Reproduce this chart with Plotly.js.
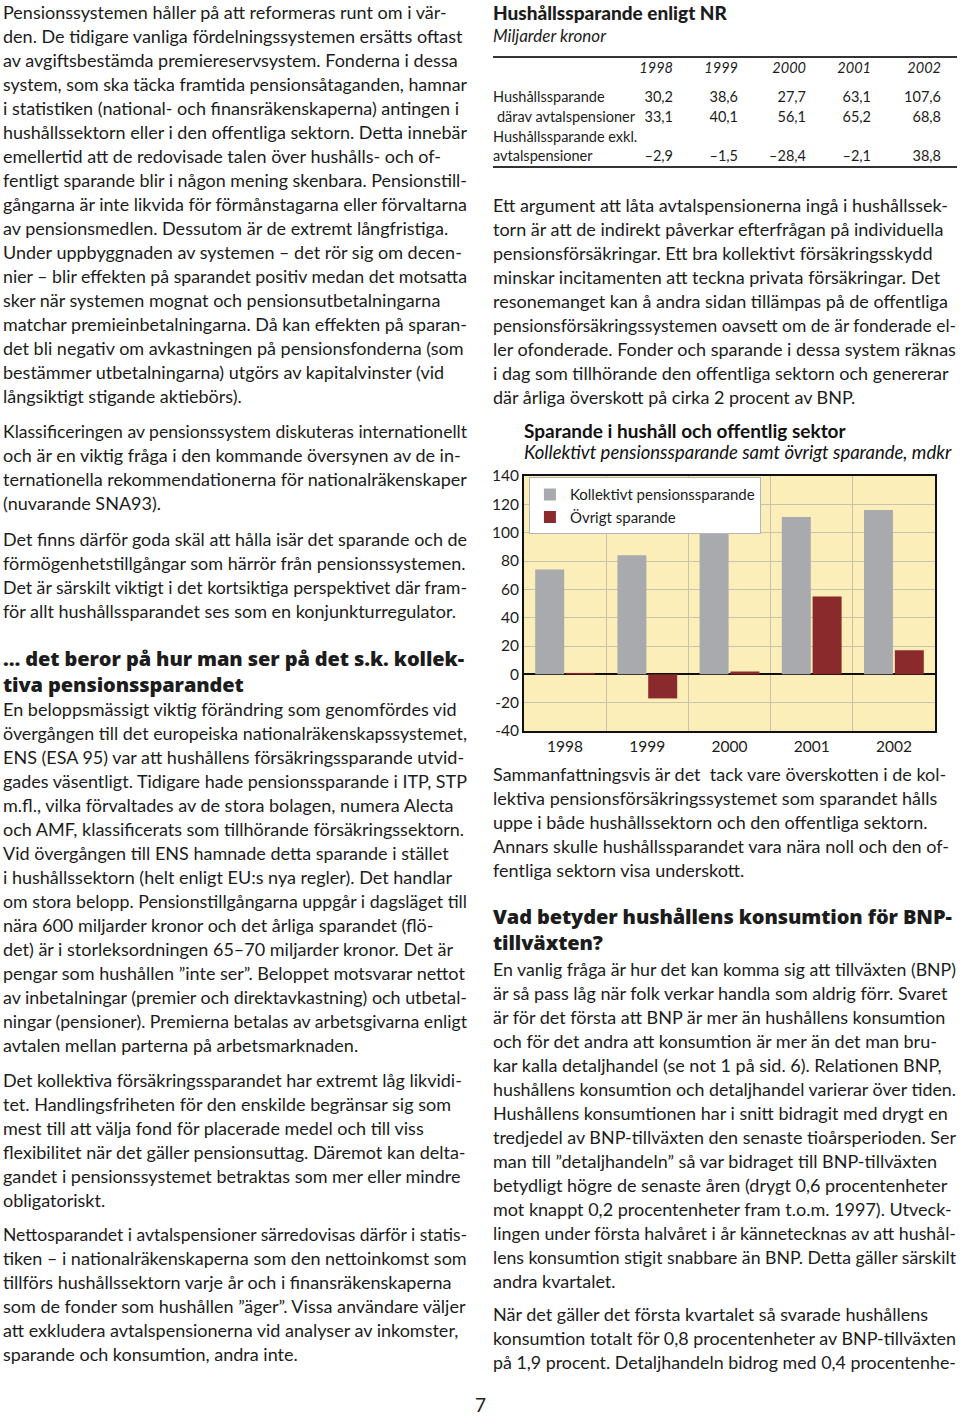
<!DOCTYPE html>
<html lang="sv">
<head>
<meta charset="utf-8">
<script src="https://cdn.plot.ly/plotly-3.0.1.min.js"></script>
<style>
  html, body { margin: 0; padding: 0; background: #fff; }
  body { width: 960px; height: 1416px; position: relative; overflow: hidden;
         font-family: Lato, "Noto Sans", sans-serif; color: #1c1c1c; }
  .p { position: absolute; font-size: 18px; line-height: 24px; white-space: nowrap; }
  .h { position: absolute; font-family: "Open Sans", Lato, sans-serif; font-size: 20px; line-height: 25.5px; font-weight: 800; white-space: nowrap; letter-spacing: -0.1px; }
  .ln { display: block; transform-origin: 0 50%; width: max-content; }
  .tt { position: absolute; font-size: 19px; font-weight: 900; white-space: nowrap; }
  .ts { position: absolute; font-size: 17px; font-style: italic; white-space: nowrap; }
  .rule { position: absolute; left: 493px; width: 464px; height: 1.5px; background: #333; }
  .cell { position: absolute; font-size: 14.5px; line-height: 18px; white-space: nowrap; }
  #chart { position: absolute; left: 488px; top: 415px; width: 472px; height: 345px; }
</style>
</head>
<body>

<!-- LEFT COLUMN -->
<div class="p L" style="left:3px; top:0px;">Pensionssystemen håller på att reformeras runt om i vär-<br>den. De tidigare vanliga fördelningssystemen ersätts oftast<br>av avgiftsbestämda premiereservsystem. Fonderna i dessa<br>system, som ska täcka framtida pensionsåtaganden, hamnar<br>i statistiken (national- och finansräkenskaperna) antingen i<br>hushållssektorn eller i den offentliga sektorn. Detta innebär<br>emellertid att de redovisade talen över hushålls- och of-<br>fentligt sparande blir i någon mening skenbara. Pensionstill-<br>gångarna är inte likvida för förmånstagarna eller förvaltarna<br>av pensionsmedlen. Dessutom är de extremt långfristiga.<br>Under uppbyggnaden av systemen – det rör sig om decen-<br>nier – blir effekten på sparandet positiv medan det motsatta<br>sker när systemen mognat och pensionsutbetalningarna<br>matchar premieinbetalningarna. Då kan effekten på sparan-<br>det bli negativ om avkastningen på pensionsfonderna (som<br>bestämmer utbetalningarna) utgörs av kapitalvinster (vid<br>långsiktigt stigande aktiebörs).</div>

<div class="p L" style="left:3px; top:419px;">Klassificeringen av pensionssystem diskuteras internationellt<br>och är en viktig fråga i den kommande översynen av de in-<br>ternationella rekommendationerna för nationalräkenskaper<br>(nuvarande SNA93).</div>

<div class="p L" style="left:3px; top:527px;">Det finns därför goda skäl att hålla isär det sparande och de<br>förmögenhetstillgångar som härrör från pensionssystemen.<br>Det är särskilt viktigt i det kortsiktiga perspektivet där fram-<br>för allt hushållssparandet ses som en konjunkturregulator.</div>

<div class="h L" style="left:3px; top:646px;">… det beror på hur man ser på det s.k. kollek-<br>tiva pensionssparandet</div>

<div class="p L" style="left:3px; top:697px;">En beloppsmässigt viktig förändring som genomfördes vid<br>övergången till det europeiska nationalräkenskapssystemet,<br>ENS (ESA 95) var att hushållens försäkringssparande utvid-<br>gades väsentligt. Tidigare hade pensionssparande i ITP, STP<br>m.fl., vilka förvaltades av de stora bolagen, numera Alecta<br>och AMF, klassificerats som tillhörande försäkringssektorn.<br>Vid övergången till ENS hamnade detta sparande i stället<br>i hushållssektorn (helt enligt EU:s nya regler). Det handlar<br>om stora belopp. Pensionstillgångarna uppgår i dagsläget till<br>nära 600 miljarder kronor och det årliga sparandet (flö-<br>det) är i storleksordningen 65–70 miljarder kronor. Det är<br>pengar som hushållen ”inte ser”. Beloppet motsvarar nettot<br>av inbetalningar (premier och direktavkastning) och utbetal-<br>ningar (pensioner). Premierna betalas av arbetsgivarna enligt<br>avtalen mellan parterna på arbetsmarknaden.</div>

<div class="p L" style="left:3px; top:1068px;">Det kollektiva försäkringssparandet har extremt låg likvidi-<br>tet. Handlingsfriheten för den enskilde begränsar sig som<br>mest till att välja fond för placerade medel och till viss<br>flexibilitet när det gäller pensionsuttag. Däremot kan delta-<br>gandet i pensionssystemet betraktas som mer eller mindre<br>obligatoriskt.</div>

<div class="p L" style="left:3px; top:1222px;">Nettosparandet i avtalspensioner särredovisas därför i statis-<br>tiken – i nationalräkenskaperna som den nettoinkomst som<br>tillförs hushållssektorn varje år och i finansräkenskaperna<br>som de fonder som hushållen ”äger”. Vissa användare väljer<br>att exkludera avtalspensionerna vid analyser av inkomster,<br>sparande och konsumtion, andra inte.</div>

<!-- RIGHT COLUMN: table -->
<div class="tt" style="left:493px; top:1px;">Hushållssparande enligt NR</div>
<div class="ts" style="left:493px; top:25px;">Miljarder kronor</div>
<div class="rule" style="top:56px;"></div>
<div class="rule" style="top:166px;"></div>
<div id="table"></div>

<div class="p R" style="left:493px; top:193px;">Ett argument att låta avtalspensionerna ingå i hushållssek-<br>torn är att de indirekt påverkar efterfrågan på individuella<br>pensionsförsäkringar. Ett bra kollektivt försäkringsskydd<br>minskar incitamenten att teckna privata försäkringar. Det<br>resonemanget kan å andra sidan tillämpas på de offentliga<br>pensionsförsäkringssystemen oavsett om de är fonderade el-<br>ler ofonderade. Fonder och sparande i dessa system räknas<br>i dag som tillhörande den offentliga sektorn och genererar<br>där årliga överskott på cirka 2 procent av BNP.</div>

<div id="chart"></div>

<div class="p R" style="left:493px; top:762px;">Sammanfattningsvis är det &nbsp;tack vare överskotten i de kol-<br>lektiva pensionsförsäkringssystemet som sparandet hålls<br>uppe i både hushållssektorn och den offentliga sektorn.<br>Annars skulle hushållssparandet vara nära noll och den of-<br>fentliga sektorn visa underskott.</div>

<div class="h R" style="left:493px; top:904px;">Vad betyder hushållens konsumtion för BNP-<br>tillväxten?</div>

<div class="p R" style="left:493px; top:957px;">En vanlig fråga är hur det kan komma sig att tillväxten (BNP)<br>är så pass låg när folk verkar handla som aldrig förr. Svaret<br>är för det första att BNP är mer än hushållens konsumtion<br>och för det andra att konsumtion är mer än det man bru-<br>kar kalla detaljhandel (se not 1 på sid. 6). Relationen BNP,<br>hushållens konsumtion och detaljhandel varierar över tiden.<br>Hushållens konsumtionen har i snitt bidragit med drygt en<br>tredjedel av BNP-tillväxten den senaste tioårsperioden. Ser<br>man till ”detaljhandeln” så var bidraget till BNP-tillväxten<br>betydligt högre de senaste åren (drygt 0,6 procentenheter<br>mot knappt 0,2 procentenheter fram t.o.m. 1997). Utveck-<br>lingen under första halvåret i år kännetecknas av att hushål-<br>lens konsumtion stigit snabbare än BNP. Detta gäller särskilt<br>andra kvartalet.</div>

<div class="p R" style="left:493px; top:1302px;">När det gäller det första kvartalet så svarade hushållens<br>konsumtion totalt för 0,8 procentenheter av BNP-tillväxten<br>på 1,9 procent. Detaljhandeln bidrog med 0,4 procentenhe-</div>

<div class="p" style="left:475px; top:1393px; font-size:19px;">7</div>

<script>
// ---- Table data ----
const tableYears = ['1998', '1999', '2000', '2001', '2002'];
const tableRowLabels = ['Hushållssparande', ' därav avtalspensioner', 'Hushållssparande exkl.', 'avtalspensioner'];
const hushallssparande = ['30,2', '38,6', '27,7', '63,1', '107,6'];
const daravAvtalspensioner = ['33,1', '40,1', '56,1', '65,2', '68,8'];
const exklAvtalspensioner = ['–2,9', '–1,5', '–28,4', '–2,1', '38,8'];

// ---- Chart data ----
const chartYears = ['1998', '1999', '2000', '2001', '2002'];
const kollektivtPensionssparande = [74, 84, 102, 111, 116];
const ovrigtSparande = [1, -17, 2, 55, 17];
const yTickVals = [-40, -20, 0, 20, 40, 60, 80, 100, 120, 140];
const yTickText = ['-40', '-20', '0', '20', '40', '60', '80', '100', '120', '140'];

// Wrap paragraph lines and keep each line inside its column
(function () {
  document.querySelectorAll('.p.L, .p.R, .h').forEach(el => {
    const maxW = el.classList.contains('L') ? 464 : 463;
    const parts = el.innerHTML.split(/<br\s*\/?>/i);
    el.innerHTML = parts.map(t => '<span class="ln">' + t + '</span>').join('');
    el.querySelectorAll('.ln').forEach(s => {
      const w = s.getBoundingClientRect().width;
      if (w > maxW) s.style.transform = 'scaleX(' + (maxW / w).toFixed(4) + ')';
    });
  });
})();

// Build table
(function () {
  const host = document.getElementById('table');
  const colRight = [673, 738, 806, 871, 941];
  const rowTop = [59, 88, 108, 128, 147];
  function cell(text, left, right, top, italic) {
    const d = document.createElement('div');
    d.className = 'cell';
    d.textContent = text;
    if (right !== null) { d.style.right = (960 - right) + 'px'; } else { d.style.left = left + 'px'; }
    d.style.top = top + 'px';
    if (italic) d.style.fontStyle = 'italic';
    host.appendChild(d);
  }
  tableYears.forEach((y, i) => cell(y, null, colRight[i], rowTop[0], true));
  cell(tableRowLabels[0], 493, null, rowTop[1]);
  cell(tableRowLabels[1], 497, null, rowTop[2]);
  cell(tableRowLabels[2], 493, null, rowTop[3]);
  cell(tableRowLabels[3], 493, null, rowTop[4]);
  hushallssparande.forEach((v, i) => cell(v, null, colRight[i], rowTop[1]));
  daravAvtalspensioner.forEach((v, i) => cell(v, null, colRight[i], rowTop[2]));
  exklAvtalspensioner.forEach((v, i) => cell(v, null, colRight[i], rowTop[4]));
})();

// Build chart
const fontFam = 'Lato, "Noto Sans", sans-serif';
const traces = [
  { type: 'bar', name: 'Kollektivt pensionssparande', x: chartYears, y: kollektivtPensionssparande,
    marker: { color: '#A8AAAD' }, hoverinfo: 'skip' },
  { type: 'bar', name: 'Övrigt sparande', x: chartYears, y: ovrigtSparande,
    marker: { color: '#8A2A2C' }, hoverinfo: 'skip' }
];
const layout = {
  width: 472, height: 345,
  margin: { l: 36, r: 25, t: 61, b: 29, pad: 0 },
  paper_bgcolor: '#ffffff',
  plot_bgcolor: '#FCEEB9',
  font: { family: fontFam, size: 15, color: '#1c1c1c' },
  barmode: 'group', bargap: 0.25, bargroupgap: 0.06,
  showlegend: true,
  legend: { x: 0.012, y: 0.995, xanchor: 'left', yanchor: 'top', bgcolor: '#ffffff',
            bordercolor: '#b5b5b5', borderwidth: 1, font: { size: 15, family: fontFam },
            itemwidth: 30, tracegroupgap: 0, indentation: -16 },
  xaxis: { type: 'category', tickson: 'boundaries', showgrid: true, gridcolor: '#C9C3AE', gridwidth: 1,
           ticks: '', showline: true, linecolor: '#111', linewidth: 2, mirror: true,
           tickfont: { size: 15.5 }, fixedrange: true },
  yaxis: { range: [-40, 140], tickmode: 'array', tickvals: yTickVals, ticktext: yTickText,
           showgrid: true, gridcolor: '#C9C3AE', gridwidth: 1,
           zeroline: true, zerolinecolor: '#111', zerolinewidth: 2,
           ticks: '', showline: true, linecolor: '#111', linewidth: 2, mirror: true,
           tickfont: { size: 15.5 }, fixedrange: true },
  annotations: [
    { xref: 'paper', yref: 'paper', x: -0.005, y: 1.180, xanchor: 'left', yanchor: 'middle', showarrow: false,
      text: '<b>Sparande i hushåll och offentlig sektor</b>', font: { size: 19, family: fontFam, color: '#111' } },
    { xref: 'paper', yref: 'paper', x: -0.005, y: 1.094, xanchor: 'left', yanchor: 'middle', showarrow: false,
      text: '<i>Kollektivt pensionssparande samt övrigt sparande, mdkr</i>', font: { size: 18.5, family: fontFam, color: '#111' } }
  ]
};
Plotly.newPlot('chart', traces, layout, { staticPlot: true, displayModeBar: false });
</script>
</body>
</html>
